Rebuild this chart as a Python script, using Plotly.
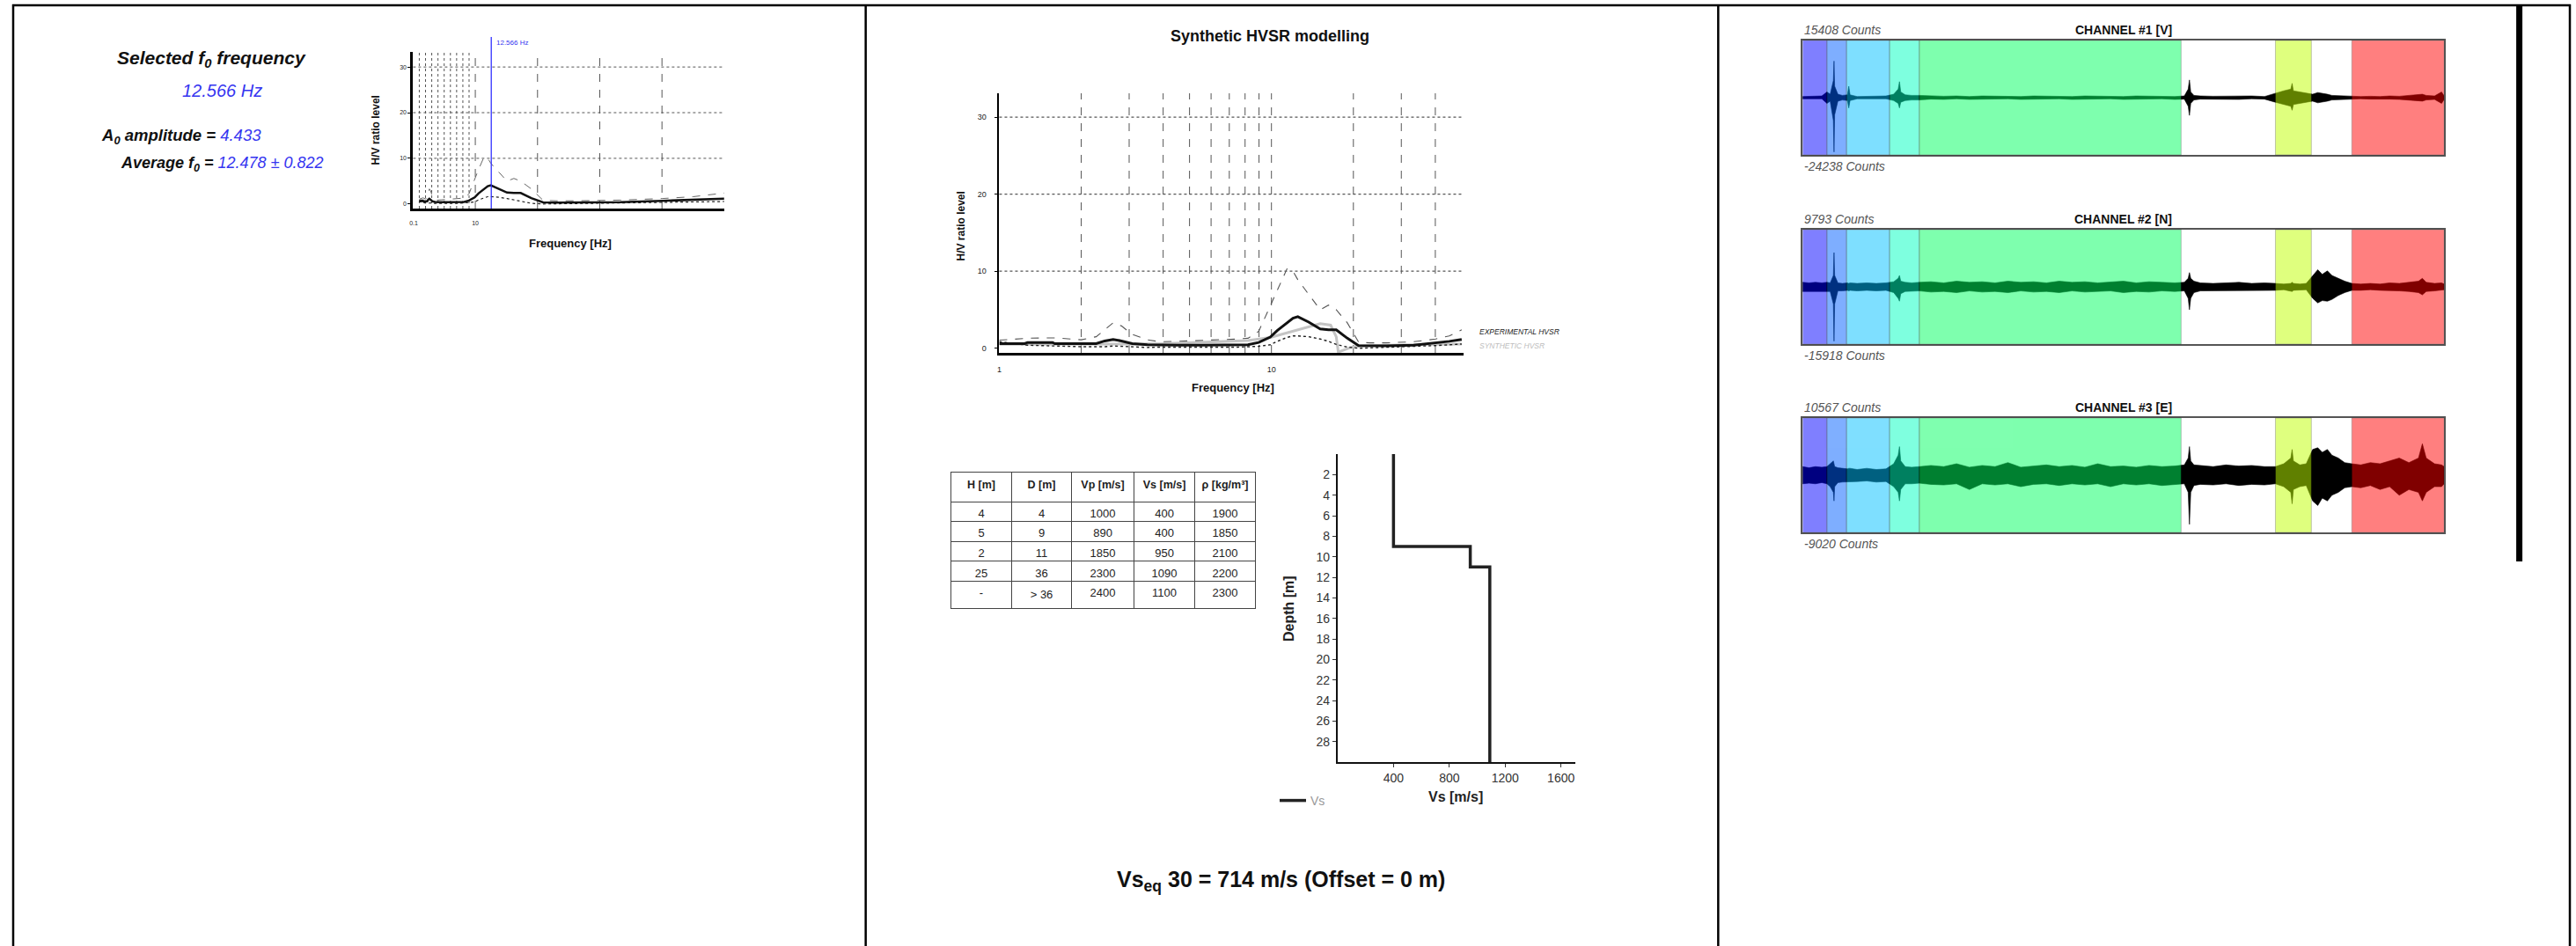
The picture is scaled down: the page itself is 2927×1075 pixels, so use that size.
import plotly.graph_objects as go

W, H = 2927, 1075


def px(x):
    return x / W


def py(y):
    return 1 - y / H


def dom_x(a, b):
    return [a / W, b / W]


def dom_y(top, bottom):
    return [1 - bottom / H, 1 - top / H]


NARROW = "Liberation Sans Narrow, Arial Narrow, Liberation Sans, Arial, sans-serif"
SANS = "Liberation Sans, Arial, sans-serif"
BLUE = "#3535f0"
NB = "\u00a0"

# ---------------- HVSR data ----------------
FREQ = [1.0, 1.24, 1.27, 1.57, 1.6, 2.0, 2.27, 2.44, 2.62, 2.81,
        3.08, 3.5, 3.89, 4.5, 5.5, 6.5, 7.5, 8.2, 8.98, 9.9,
        10.5, 11.4, 12.0, 12.5, 13.7, 15.1, 16.2, 17.3, 19.0, 20.9,
        23.0, 26.4, 33.3, 40.1, 45.0, 50.0]
HV_MEAN = [0.6, 0.6, 0.75, 0.75, 0.6, 0.6, 0.6, 0.95, 1.15, 0.95,
           0.6, 0.45, 0.4, 0.4, 0.4, 0.4, 0.4, 0.45, 0.75, 1.45,
           2.3, 3.3, 3.9, 4.1, 3.4, 2.5, 2.4, 2.4, 1.3, 0.35,
           0.3, 0.3, 0.4, 0.7, 0.9, 1.15]
HV_UPPER = [1.05, 1.2, 1.3, 1.35, 1.35, 1.1, 1.5, 2.4, 3.3, 2.9,
            1.8, 1.1, 0.85, 0.9, 1.0, 1.1, 1.2, 1.3, 2.2, 5.5,
            7.5, 10.3, 10.0, 8.9, 7.0, 5.0, 5.6, 5.0, 3.3, 0.8,
            0.7, 0.7, 0.85, 1.2, 1.6, 2.4]
HV_LOWER = [0.85, 0.5, 0.4, 0.3, 0.3, 0.2, 0.15, 0.2, 0.3, 0.25,
            0.15, 0.1, 0.15, 0.15, 0.1, 0.15, 0.15, 0.2, 0.25, 0.45,
            0.9, 1.4, 1.6, 1.6, 1.5, 1.2, 0.9, 0.5, 0.15, 0.0,
            0.05, 0.1, 0.2, 0.35, 0.45, 0.55]
SYN_FREQ = [1.0, 1.6, 2.0, 3.0, 4.0, 5.5, 7.0, 8.2, 9.9, 11.4, 13.0,
            15.1, 16.5, 17.3, 17.6, 19.5, 21.0, 26.0, 33.0, 40.0, 50.0]
SYN_HV = [0.5, 0.5, 0.5, 0.55, 0.6, 0.75, 0.9, 1.0, 1.4, 2.0, 2.6,
          3.2, 3.0, 1.5, -0.5, 0.1, 0.3, 0.4, 0.45, 0.5, 0.55]
F0_SELECTED = 12.566
A0_AMPLITUDE = 4.433
F0_AVERAGE = 12.478
F0_STD = 0.822
HV_GRID_X = [2, 3, 4, 5, 6, 7, 8, 9, 10, 20, 30, 40]
MINI_GRID_X = [1, 2, 3, 4, 5, 6, 7, 8, 9, 10, 20, 30, 40]
HV_GRID_Y = [10, 20, 30]

# ---------------- Layer model ----------------
TABLE_HEAD = ["H [m]", "D [m]", "Vp [m/s]", "Vs [m/s]", "ρ [kg/m³]"]
H_COL = ["4", "5", "2", "25", "-"]
D_COL = ["4", "9", "11", "36", "> 36"]
VP_COL = [1000, 890, 1850, 2300, 2400]
VS_COL = [400, 400, 950, 1090, 1100]
RHO_COL = [1900, 1850, 2100, 2200, 2300]
LAYER_BOTTOM = [4, 9, 11, 36]
MAX_DEPTH = 30
VS_EQ = 714

# ---------------- Traces (normalised envelopes, % of record) ----------------
T = [0, 1, 2, 3, 3.8, 4.3, 4.8, 4.9, 5.0, 5.5,
     6.2, 7.0, 7.2, 7.4, 8.5, 10, 11.5, 13, 14.2, 14.9,
     15.1, 15.3, 16, 17, 18.2, 20, 22, 24, 26, 28,
     30, 32, 34, 36, 38, 40, 42, 44, 46, 48,
     50, 52, 54, 56, 58, 59.5, 60.1, 60.3, 60.5, 61,
     62, 64, 66, 68, 70, 72, 73.7, 75, 76.1, 76.3,
     76.5, 77.5, 78.5, 79.5, 80.3, 81, 81.8, 82.5, 83.5, 84.5,
     85.6, 87, 88.5, 90, 91.5, 93, 94.5, 96, 96.6, 97.2,
     98.5, 99.6, 100]
CH1_UP = [0.02, 0.025, 0.02, 0.03, 0.1, 0.06, 0.3, 0.64, 0.2, 0.06,
          0.04, 0.05, 0.2, 0.05, 0.02, 0.025, 0.02, 0.03, 0.06, 0.15,
          0.28, 0.1, 0.05, 0.04, 0.04, 0.03, 0.025, 0.03, 0.02, 0.03,
          0.025, 0.03, 0.02, 0.03, 0.025, 0.03, 0.02, 0.03, 0.025, 0.03,
          0.02, 0.03, 0.025, 0.03, 0.02, 0.03, 0.15, 0.31, 0.1, 0.04,
          0.03, 0.025, 0.03, 0.025, 0.03, 0.02, 0.08, 0.12, 0.15, 0.25,
          0.12, 0.1, 0.08, 0.06, 0.09, 0.08, 0.06, 0.04, 0.035, 0.03,
          0.025, 0.02, 0.025, 0.02, 0.03, 0.025, 0.04, 0.05, 0.06, 0.04,
          0.03, 0.1, 0.03]
CH1_LO = [-0.02, -0.02, -0.025, -0.02, -0.1, -0.06, -0.4, -0.95, -0.3, -0.06,
          -0.04, -0.05, -0.18, -0.05, -0.02, -0.02, -0.025, -0.02, -0.05, -0.1,
          -0.18, -0.08, -0.05, -0.04, -0.04, -0.025, -0.03, -0.02, -0.03, -0.025,
          -0.03, -0.02, -0.03, -0.025, -0.03, -0.02, -0.03, -0.025, -0.03, -0.02,
          -0.03, -0.025, -0.03, -0.02, -0.03, -0.025, -0.15, -0.31, -0.1, -0.04,
          -0.025, -0.03, -0.025, -0.03, -0.02, -0.025, -0.08, -0.12, -0.15, -0.22,
          -0.12, -0.1, -0.08, -0.06, -0.09, -0.08, -0.06, -0.04, -0.035, -0.03,
          -0.025, -0.02, -0.025, -0.02, -0.025, -0.03, -0.04, -0.05, -0.06, -0.04,
          -0.03, -0.1, -0.03]
CH2_UP = [0.08, 0.07, 0.08, 0.07, 0.08, 0.07, 0.2, 0.6, 0.2, 0.07,
          0.06, 0.07, 0.06, 0.07, 0.06, 0.07, 0.06, 0.07, 0.09, 0.15,
          0.2, 0.1, 0.08, 0.07, 0.08, 0.09, 0.07, 0.1, 0.08, 0.09,
          0.07, 0.1, 0.08, 0.09, 0.07, 0.1, 0.08, 0.09, 0.07, 0.08,
          0.1, 0.07, 0.09, 0.08, 0.07, 0.08, 0.15, 0.25, 0.15, 0.1,
          0.07, 0.06, 0.07, 0.08, 0.06, 0.07, 0.06, 0.05, 0.06, 0.08,
          0.06, 0.05, 0.06, 0.2, 0.3, 0.22, 0.28, 0.2, 0.15, 0.1,
          0.06, 0.05, 0.06, 0.05, 0.07, 0.06, 0.08, 0.1, 0.15, 0.08,
          0.06, 0.07, 0.05]
CH2_LO = [-0.08, -0.08, -0.07, -0.08, -0.07, -0.08, -0.3, -0.95, -0.3, -0.07,
          -0.07, -0.06, -0.07, -0.06, -0.07, -0.06, -0.07, -0.06, -0.1, -0.2,
          -0.25, -0.12, -0.08, -0.08, -0.07, -0.09, -0.08, -0.1, -0.07, -0.09,
          -0.08, -0.1, -0.07, -0.09, -0.08, -0.1, -0.07, -0.09, -0.08, -0.07,
          -0.1, -0.08, -0.09, -0.07, -0.08, -0.07, -0.2, -0.4, -0.2, -0.1,
          -0.07, -0.07, -0.06, -0.07, -0.07, -0.06, -0.06, -0.05, -0.07, -0.08,
          -0.06, -0.06, -0.05, -0.2, -0.28, -0.24, -0.25, -0.22, -0.15, -0.1,
          -0.06, -0.06, -0.05, -0.06, -0.06, -0.07, -0.08, -0.1, -0.14, -0.08,
          -0.07, -0.06, -0.05]
CH3_UP = [0.15, 0.13, 0.15, 0.14, 0.15, 0.2, 0.25, 0.2, 0.15, 0.13,
          0.12, 0.11, 0.12, 0.12, 0.1, 0.12, 0.1, 0.11, 0.2, 0.35,
          0.5, 0.25, 0.15, 0.14, 0.15, 0.17, 0.15, 0.2, 0.14, 0.17,
          0.15, 0.22, 0.14, 0.16, 0.18, 0.15, 0.17, 0.14, 0.2, 0.15,
          0.16, 0.14, 0.17, 0.15, 0.16, 0.18, 0.3, 0.5, 0.25, 0.18,
          0.17, 0.15, 0.18, 0.16, 0.17, 0.15, 0.15, 0.2, 0.3, 0.45,
          0.25, 0.18, 0.2, 0.45, 0.48, 0.4, 0.45, 0.35, 0.3, 0.22,
          0.2, 0.18, 0.22, 0.2, 0.25, 0.3, 0.22, 0.3, 0.55, 0.3,
          0.2, 0.18, 0.15]
CH3_LO = [-0.15, -0.14, -0.15, -0.13, -0.15, -0.2, -0.3, -0.45, -0.2, -0.13,
          -0.12, -0.12, -0.11, -0.12, -0.11, -0.1, -0.12, -0.11, -0.2, -0.3,
          -0.45, -0.25, -0.15, -0.15, -0.14, -0.16, -0.17, -0.15, -0.25, -0.15,
          -0.17, -0.15, -0.2, -0.16, -0.15, -0.18, -0.15, -0.17, -0.15, -0.2,
          -0.15, -0.17, -0.15, -0.18, -0.16, -0.15, -0.3, -0.86, -0.3, -0.18,
          -0.16, -0.17, -0.15, -0.18, -0.16, -0.17, -0.15, -0.2, -0.3, -0.5,
          -0.25, -0.2, -0.18, -0.45, -0.53, -0.4, -0.45, -0.35, -0.3, -0.22,
          -0.2, -0.22, -0.18, -0.25, -0.2, -0.35, -0.25, -0.3, -0.45, -0.3,
          -0.2, -0.2, -0.15]
CH_NAMES = ["CHANNEL #1 [V]", "CHANNEL #2 [N]", "CHANNEL #3 [E]"]
CH_MAX = [15408, 9793, 10567]
CH_MIN = [-24238, -15918, -9020]
BAND_START = [0, 3.8, 6.85, 13.56, 18.2, 73.7, 85.6]
BAND_END = [3.8, 6.85, 13.56, 18.2, 59.0, 79.3, 100]
BAND_COLOR = ["rgb(0,0,255)", "rgb(0,96,255)", "rgb(0,192,255)", "rgb(0,255,192)",
              "rgb(0,255,96)", "rgb(192,255,0)", "rgb(255,0,0)"]

fig = go.Figure()
shapes = []
ann = []


def text(x, y, s, size, color="#111", family=NARROW, xanchor="center", angle=0):
    ann.append(dict(x=px(x), y=py(y), xref="paper", yref="paper", text=s, showarrow=False,
                    xanchor=xanchor, yanchor="middle", textangle=angle,
                    font=dict(size=size, color=color, family=family)))


# ---------------- Mini HVSR (cell 1) ----------------
fig.add_trace(go.Scatter(x=FREQ, y=HV_UPPER, mode="lines", xaxis="x", yaxis="y",
                         line=dict(color="#666", width=1, dash="dash"), showlegend=False))
fig.add_trace(go.Scatter(x=FREQ, y=HV_LOWER, mode="lines", xaxis="x", yaxis="y",
                         line=dict(color="#222", width=1.2, dash="dot"), showlegend=False))
fig.add_trace(go.Scatter(x=FREQ, y=HV_MEAN, mode="lines", xaxis="x", yaxis="y",
                         line=dict(color="#111", width=2.5), showlegend=False))
for g in MINI_GRID_X:
    shapes.append(dict(type="line", xref="x", yref="y domain", x0=g, x1=g, y0=0, y1=1,
                       line=dict(color="#555", width=1, dash="dot" if g < 10 else "dash"), layer="below"))
for g in HV_GRID_Y:
    shapes.append(dict(type="line", xref="x domain", yref="y", x0=0, x1=1, y0=g, y1=g,
                       line=dict(color="#555", width=1, dash="dot"), layer="below"))
shapes.append(dict(type="line", xref="x", yref="paper", x0=F0_SELECTED, x1=F0_SELECTED,
                   y0=py(237), y1=py(42), line=dict(color="#3030ff", width=1.3)))
text(559, 49, f"{F0_SELECTED} Hz", 8, BLUE, xanchor="left")
text(424, 148, "<b>H/V ratio level</b>", 12, "#111", angle=-90)
text(645, 277, "<b>Frequency [Hz]</b>", 13, "#111")

text(237, 67, "<b><i>Selected f<sub>0</sub> frequency</i></b>", 21)
text(249, 103, f"<i>{F0_SELECTED} Hz</i>", 20, BLUE)
text(109, 155, f"<b><i>A<sub>0</sub> amplitude = </i></b><i><span style='color:{BLUE}'>{A0_AMPLITUDE}</span></i>",
     18.5, xanchor="left")
text(131, 186, f"<b><i>Average f<sub>0</sub> = </i></b><i><span style='color:{BLUE}'>{F0_AVERAGE} ± {F0_STD}</span></i>",
     18, xanchor="left")

# ---------------- Big HVSR (cell 2 top) ----------------
for g in HV_GRID_X:
    shapes.append(dict(type="line", xref="x2", yref="y2 domain", x0=g, x1=g, y0=0, y1=1,
                       line=dict(color="#555", width=1, dash="dash"), layer="below"))
for g in HV_GRID_Y:
    shapes.append(dict(type="line", xref="x2 domain", yref="y2", x0=0, x1=1, y0=g, y1=g,
                       line=dict(color="#555", width=1.2, dash="dot"), layer="below"))
fig.add_trace(go.Scatter(x=SYN_FREQ, y=SYN_HV, mode="lines", xaxis="x2", yaxis="y2",
                         line=dict(color="#c4c4c4", width=3), showlegend=False))
fig.add_trace(go.Scatter(x=FREQ, y=HV_UPPER, mode="lines", xaxis="x2", yaxis="y2",
                         line=dict(color="#555", width=1.1, dash="dash"), showlegend=False))
fig.add_trace(go.Scatter(x=FREQ, y=HV_LOWER, mode="lines", xaxis="x2", yaxis="y2",
                         line=dict(color="#222", width=1.4, dash="dot"), showlegend=False))
fig.add_trace(go.Scatter(x=FREQ, y=HV_MEAN, mode="lines", xaxis="x2", yaxis="y2",
                         line=dict(color="#111", width=3), showlegend=False))
text(1441, 41, "<b>Synthetic HVSR modelling</b>", 18)
text(1089, 257, "<b>H/V ratio level</b>", 12, angle=-90)
text(1399, 440, "<b>Frequency [Hz]</b>", 13)
text(1677, 377, "<i>EXPERIMENTAL HVSR</i>", 8.5, "#222", xanchor="left")
text(1677, 393, "<i>SYNTHETIC HVSR</i>", 8.5, "#bdbdbd", xanchor="left")

# ---------------- Layer table ----------------
fig.add_trace(go.Table(
    domain=dict(x=dom_x(1078, 1425), y=dom_y(536, 700)),
    columnwidth=[69, 68, 71, 69, 69],
    header=dict(values=["<b>" + h.replace(" ", NB) + "</b>" for h in TABLE_HEAD],
                height=34, align="center", fill_color="white",
                line=dict(color="#444", width=1),
                font=dict(size=12.5, color="#222", family=NARROW)),
    cells=dict(values=[H_COL, [d.replace(" ", NB) for d in D_COL], VP_COL, VS_COL, RHO_COL],
               height=22.6, align="center", fill_color="white",
               line=dict(color="#444", width=1),
               font=dict(size=13, color="#222", family=NARROW)),
))

# ---------------- Vs profile ----------------
prof_x, prof_y = [], []
top = 0
for i, bot in enumerate(LAYER_BOTTOM):
    b = min(bot, MAX_DEPTH)
    prof_x += [VS_COL[i], VS_COL[i]]
    prof_y += [top, b]
    top = b
    if top >= MAX_DEPTH:
        break
fig.add_trace(go.Scatter(x=prof_x, y=prof_y, mode="lines", xaxis="x3", yaxis="y3",
                         line=dict(color="#222", width=3.5), name="Vs", showlegend=True,
                         legend="legend"))
text(1462, 692, "<b>Depth [m]</b>", 16, "#222", family=SANS, angle=-90)
text(1652, 905, "<b>Vs [m/s]</b>", 16, "#222", family=SANS)
text(1453, 1001, f"<b>Vs<sub>eq</sub> 30 = {VS_EQ} m/s (Offset = 0 m)</b>", 25, "#111")

# ---------------- Channels ----------------
CH_UP = [CH1_UP, CH2_UP, CH3_UP]
CH_LO = [CH1_LO, CH2_LO, CH3_LO]
CH_TOPS = [46, 261, 475]
CH_H = 130
for k in range(3):
    ax = k + 4
    n = min(len(T), len(CH_UP[k]), len(CH_LO[k]))
    fig.add_trace(go.Scatter(x=T[:n], y=CH_UP[k][:n], mode="lines", xaxis=f"x{ax}", yaxis=f"y{ax}",
                             line=dict(color="black", width=0.6), showlegend=False))
    fig.add_trace(go.Scatter(x=T[:n], y=CH_LO[k][:n], mode="lines", xaxis=f"x{ax}", yaxis=f"y{ax}",
                             fill="tonexty", fillcolor="black",
                             line=dict(color="black", width=0.6), showlegend=False))
    for s, e, c in zip(BAND_START, BAND_END, BAND_COLOR):
        shapes.append(dict(type="rect", xref=f"x{ax}", yref=f"y{ax} domain", x0=s, x1=e, y0=0, y1=1,
                           fillcolor=c, opacity=0.5, layer="above",
                           line=dict(color="rgba(0,0,0,0.45)", width=1)))
    t0 = CH_TOPS[k]
    text(2047, t0 - 12, f"<i>{CH_MAX[k]} Counts</i>", 14, "#555", xanchor="left")
    text(2047, t0 + CH_H + 13, f"<i>{CH_MIN[k]} Counts</i>", 14, "#555", xanchor="left")
    text(2412, t0 - 12, f"<b>{CH_NAMES[k]}</b>", 14, "#111")

# ---------------- Page frame ----------------
frame = dict(color="black", width=2.5)
shapes.append(dict(type="line", xref="paper", yref="paper", x0=px(10), x1=px(2921), y0=py(6), y1=py(6), line=frame))
for xv in [11, 981, 1951, 2920]:
    shapes.append(dict(type="line", xref="paper", yref="paper", x0=px(xv), x1=px(xv), y0=py(5), y1=0, line=frame))
shapes.append(dict(type="line", xref="paper", yref="paper", x0=px(2862.5), x1=px(2862.5),
                   y0=py(6), y1=py(638), line=dict(color="black", width=7)))

tickfont_small = dict(size=7, color="#222", family=NARROW)
tickfont_hv = dict(size=9, color="#222", family=NARROW)
tickfont_vs = dict(size=14, color="#333", family=NARROW)

layout = dict(
    width=W, height=H, margin=dict(l=0, r=0, t=0, b=0),
    paper_bgcolor="white", plot_bgcolor="white",
    shapes=shapes, annotations=ann,
    legend=dict(x=px(1447), y=py(910), xanchor="left", yanchor="middle",
                font=dict(size=14, color="#999", family=NARROW), bgcolor="rgba(0,0,0,0)",
                itemwidth=30),
    # mini HVSR
    xaxis=dict(domain=dom_x(466, 820), range=[0, 50], anchor="y", showgrid=False, zeroline=False,
               showline=True, linecolor="black", linewidth=3, tickvals=[0.1, 10], ticktext=["0.1", "10"],
               tickfont=tickfont_small, ticks="", ticklabelstandoff=8),
    yaxis=dict(domain=dom_y(59, 237), range=[-1, 33.3], anchor="x", showgrid=False, zeroline=False,
               showline=True, linecolor="black", linewidth=3, tickvals=[0, 10, 20, 30],
               tickfont=tickfont_small, ticks="outside", ticklen=3, tickcolor="black"),
    # big HVSR
    xaxis2=dict(domain=dom_x(1133, 1661), type="log", range=[0, 1.705], anchor="y2", showgrid=False,
                zeroline=False, showline=True, linecolor="black", linewidth=3, tickvals=[1, 10],
                ticktext=["1", "10"], tickfont=tickfont_hv, ticks="", ticklabelstandoff=8),
    yaxis2=dict(domain=dom_y(106, 401), range=[-0.6, 33.1], anchor="x2", showgrid=False, zeroline=False,
                showline=True, linecolor="black", linewidth=2, tickvals=[0, 10, 20, 30],
                tickfont=tickfont_hv, ticks="outside", ticklen=3, tickcolor="black", ticklabelstandoff=8),
    # Vs profile
    xaxis3=dict(domain=dom_x(1518, 1788), range=[0, 1700], anchor="y3", showgrid=False, zeroline=False,
                showline=True, linecolor="#111", linewidth=2, tickvals=[400, 800, 1200, 1600],
                tickfont=tickfont_vs, ticks="outside", ticklen=4, tickcolor="#333"),
    yaxis3=dict(domain=dom_y(516, 866), range=[MAX_DEPTH, 0], anchor="x3", showgrid=False, zeroline=False,
                showline=True, linecolor="#111", linewidth=2, tickvals=list(range(2, 30, 2)),
                tickfont=tickfont_vs, ticks="outside", ticklen=4, tickcolor="#333"),
)
for k in range(3):
    ax = k + 4
    t0 = CH_TOPS[k]
    layout[f"xaxis{ax}"] = dict(domain=dom_x(2047, 2777), range=[0, 100], anchor=f"y{ax}",
                                showgrid=False, zeroline=False, showticklabels=False, ticks="",
                                showline=True, mirror=True, linecolor="#555", linewidth=2)
    layout[f"yaxis{ax}"] = dict(domain=dom_y(t0, t0 + CH_H), range=[-1, 1], anchor=f"x{ax}",
                                showgrid=False, zeroline=False, showticklabels=False, ticks="",
                                showline=True, mirror=True, linecolor="#555", linewidth=2)

fig.update_layout(**layout)
fig.write_html("out.html")
